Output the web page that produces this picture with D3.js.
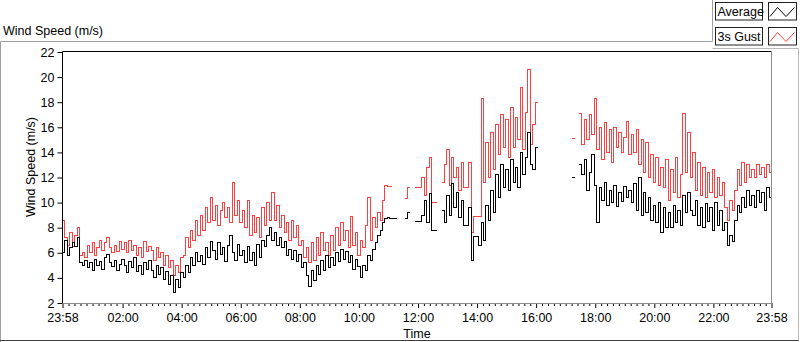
<!DOCTYPE html>
<html>
<head>
<meta charset="utf-8">
<script src="https://cdn.jsdelivr.net/npm/d3@7"></script>
<style>
  body { margin: 0; background: #fff; }
  svg text { font-family: "Liberation Sans", Arial, sans-serif; font-size: 12.5px; fill: #000; }
</style>
</head>
<body>
<svg id="chart"></svg>
<script>
// 5 minute samples starting 23:58, null = no data logged
const stepMinutes = 5;
const seriesNames = ["Average", "3s Gust"];
const seriesColors = ["#000000", "#ff4040"];
const yTicks = [2, 4, 6, 8, 10, 12, 14, 16, 18, 20, 22];

const average = [
  6.0, 7.0, 5.8, 6.4, 6.8, 6.5, 7.2, 5.2, 5.0, 5.4, 4.8, 5.2,
  4.6, 5.5, 5.0, 5.3, 4.7, 5.6, 5.9, 5.2, 4.9, 5.4, 4.6, 5.1,
  5.5, 5.0, 4.4, 5.3, 4.8, 5.6, 4.5, 5.0, 4.3, 5.2, 4.7, 5.4,
  4.6, 4.0, 5.0, 4.3, 4.8, 3.9, 4.5, 3.5, 4.2, 2.8, 3.9, 3.2,
  4.4, 4.0, 5.0, 4.4, 5.6, 5.0, 6.0, 5.3, 5.8, 5.1, 6.4, 5.6,
  6.9, 6.2, 5.5, 6.8, 5.9, 6.4, 5.3, 6.6, 7.4, 6.0, 5.4, 6.7,
  5.8, 6.2, 5.2, 6.5, 5.4, 6.0, 5.0, 6.7, 5.6, 7.0, 6.5, 7.4,
  8.0, 7.0, 7.6, 6.6, 7.2, 6.4, 6.9, 5.8, 6.3, 5.5, 6.2, 5.3,
  5.9, 4.8, 5.2, 4.2, 3.3, 4.6, 3.8, 5.0, 4.3, 5.4, 4.6, 5.8,
  4.8, 5.6, 5.0, 6.0, 5.3, 6.3, 5.5, 6.1, 5.2, 5.8, 4.7, 5.5,
  4.9, 4.0, 5.0, 4.6, 5.8, 5.4, 6.3, 6.8, 7.4, 7.8, 8.4, 8.7,
  8.8, 8.7, 8.7, 8.7, 8.7, null, null, 8.7, 9.2, 9.2, null, 8.5,
  8.5, 8.5, 9.0, 10.2, 8.4, 10.7, 7.8, 7.8, 7.8, null, 9.4, 8.4,
  10.6, 9.0, 11.5, 9.6, 10.8, 8.8, 10.2, 8.2, 8.2, 9.6, 5.4, 7.3,
  7.3, 6.6, 8.4, 7.0, 9.8, 8.6, 11.0, 9.2, 12.2, 10.4, 13.0, 11.2,
  12.6, 11.0, 13.4, 11.6, 12.8, 11.2, 14.0, 12.2, 13.6, 15.6, 13.0, 12.6,
  14.4, 14.4, null, null, null, null, null, null, null, null, null, null,
  null, null, null, 12.0, 12.0, null, 13.0, 12.2, 13.4, 11.0, 12.4, 13.8,
  11.4, 8.4, 11.2, 10.2, 11.6, 9.8, 11.0, 10.0, 11.4, 9.7, 10.8, 10.1,
  11.3, 10.4, 11.0, 10.0, 11.5, 9.4, 12.0, 9.0, 10.8, 9.2, 10.4, 8.6,
  9.8, 8.4, 10.0, 7.6, 9.6, 8.0, 9.2, 8.0, 9.8, 8.4, 9.4, 8.2,
  10.6, 9.2, 10.8, 9.4, 9.0, 10.2, 8.2, 9.6, 8.0, 9.9, 8.5, 9.6,
  7.8, 10.0, 8.2, 9.4, 7.8, 8.4, 6.6, 7.4, 6.9, 8.6, 9.8, 9.2,
  10.4, 9.6, 11.0, 9.8, 10.6, 9.6, 11.0, 10.0, 10.8, 9.4, 11.2, 10.4,
  10.8
];

const gust = [
  8.6, 7.2, 6.6, 7.6, 6.5, 7.4, 8.0, 5.8, 6.0, 5.6, 6.6, 6.0,
  6.8, 5.8, 6.4, 7.0, 6.2, 6.8, 7.2, 6.4, 6.0, 6.6, 6.1, 6.9,
  6.3, 6.8, 6.0, 7.0, 6.2, 6.6, 5.8, 6.4, 5.6, 6.9, 6.1, 6.5,
  6.2, 5.4, 6.4, 5.6, 6.0, 5.0, 5.8, 4.8, 5.4, 4.2, 5.0, 4.4,
  5.6, 5.8, 7.2, 6.4, 7.8, 7.0, 8.6, 7.4, 9.0, 7.8, 9.6, 8.4,
  10.4, 8.6, 9.8, 8.2, 9.4, 10.0, 8.8, 9.6, 8.4, 11.6, 9.0, 10.2,
  8.4, 9.4, 8.0, 10.2, 7.4, 9.0, 7.6, 8.8, 7.2, 9.6, 8.2, 10.0,
  8.6, 10.8, 8.6, 9.8, 8.0, 9.0, 7.6, 8.4, 7.0, 8.6, 7.2, 8.2,
  6.6, 7.0, 5.6, 6.4, 5.2, 6.8, 5.4, 7.2, 5.8, 7.6, 6.2, 6.8,
  5.8, 7.4, 6.2, 8.0, 6.6, 8.4, 7.0, 7.8, 6.4, 8.9, 6.6, 7.6,
  5.8, 7.0, 6.4, 8.2, 10.4, 7.0, 8.8, 8.0, 9.2, 8.6, 10.2, 11.4,
  11.3, 11.3, 11.3, null, null, null, null, 10.3, 11.2, 11.2, null, 11.2,
  11.2, 11.2, 12.0, 10.6, 12.8, 13.6, 10.0, 10.0, 10.0, null, 11.6, 13.0,
  14.2, 11.4, 13.6, 12.0, 12.8, 11.0, 13.2, 11.2, 11.2, 13.2, 7.6, 8.9,
  8.9, 8.9, 18.3, 11.6, 14.8, 12.0, 15.6, 12.6, 16.2, 13.8, 17.0, 14.4,
  16.6, 13.6, 17.6, 14.4, 16.8, 15.0, 19.2, 14.2, 17.2, 20.6, 14.6, 16.2,
  18.0, 18.0, null, null, null, null, null, null, null, null, null, null,
  null, null, null, 15.1, 15.1, null, 17.1, 14.6, 16.6, 15.0, 17.0, 15.4,
  18.3, 14.2, 16.0, 13.4, 16.4, 14.0, 15.8, 13.2, 16.0, 14.4, 15.6, 14.0,
  15.2, 16.5, 13.8, 15.4, 14.0, 15.8, 13.0, 15.0, 12.4, 14.8, 12.0, 13.8,
  11.6, 13.6, 11.4, 12.8, 11.2, 13.4, 10.2, 12.6, 10.8, 13.6, 10.4, 12.2,
  17.1, 12.4, 15.6, 12.0, 14.0, 11.0, 13.2, 10.6, 12.8, 10.4, 12.4, 10.8,
  12.6, 10.4, 12.0, 10.6, 11.6, 9.6, 8.6, 10.2, 9.4, 11.0, 12.6, 11.4,
  13.2, 11.6, 13.0, 12.0, 12.6, 12.0, 13.0, 12.2, 12.8, 12.0, 13.0, 12.4,
  13.2
];

const width = 800;
const height = 342;

const start = new Date(2000, 0, 1, 23, 58);
const end = new Date(2000, 0, 2, 23, 58);
const timeAt = (i) => new Date(+start + i * stepMinutes * 60000);

const svg = d3.select("#chart")
  .attr("width", width)
  .attr("height", height);

const x = d3.scaleTime().domain([start, end]).range([62.5, 771.5]);
const y = d3.scaleLinear().domain([2, 22]).range([303, 52]);

// outer panel frame
svg.append("path")
  .attr("d", "M0.5,342 V41.5 H712.5 V0")
  .attr("fill", "none").attr("stroke", "#a0a0a0");
svg.append("path")
  .attr("d", "M712.5,48.5 H798.5 V340.5 H0")
  .attr("fill", "none").attr("stroke", "#b8b8b8");
svg.append("path")
  .attr("d", "M0,340.5 H798.5")
  .attr("stroke", "#404040");

svg.append("text")
  .attr("x", 3).attr("y", 35)
  .text("Wind Speed (m/s)");

// legend
const legend = svg.append("g");
seriesNames.forEach((name, k) => {
  const top = k === 0 ? 2.5 : 27.5;
  const g = legend.append("g").attr("transform", `translate(0,${top})`);
  g.append("rect")
    .attr("x", 715.5).attr("y", 0).attr("width", 47).attr("height", 17.5)
    .attr("fill", "#fff").attr("stroke", "#202020");
  g.append("text").attr("x", 717.5).attr("y", 13.5).text(name);
  g.append("rect")
    .attr("x", 768.5).attr("y", 0).attr("width", 28).attr("height", 17.5)
    .attr("fill", "#fff").attr("stroke", "#202020");
  g.append("path")
    .attr("d", "M770,14 L777.5,5 L786,14 L794.5,5")
    .attr("fill", "none").attr("stroke", seriesColors[k]);
});

// major ticks every 2 hours, minor ticks split each interval into 10
const majors = [start];
for (let h = 2; h <= 22; h += 2) majors.push(new Date(2000, 0, 2, h, 0));
majors.push(end);
const minors = [];
for (let k = 0; k < majors.length - 1; k++) {
  const a = +majors[k], b = +majors[k + 1];
  for (let j = 1; j < 10; j++) minors.push(new Date(a + (b - a) * j / 10));
}

const xAxis = svg.append("g")
  .attr("transform", "translate(0,303)")
  .call(d3.axisBottom(x).tickValues(majors).tickFormat(d3.timeFormat("%H:%M")).tickSize(5).tickPadding(5));
xAxis.select(".domain").remove();
xAxis.selectAll("text").style("font-size", "12.5px").style("font-family", "Liberation Sans, Arial, sans-serif");

const xMinor = svg.append("g")
  .attr("transform", "translate(0,303)")
  .call(d3.axisBottom(x).tickValues(minors).tickFormat("").tickSize(3));
xMinor.select(".domain").remove();

const yAxis = svg.append("g")
  .attr("transform", "translate(62.5,0)")
  .call(d3.axisLeft(y).tickValues(yTicks).tickSize(5).tickPadding(3));
yAxis.select(".domain").remove();
yAxis.selectAll("text").style("font-size", "12.5px").style("font-family", "Liberation Sans, Arial, sans-serif");

svg.append("text")
  .attr("transform", "translate(35,167) rotate(-90)")
  .attr("text-anchor", "middle")
  .text("Wind Speed (m/s)");

svg.append("text")
  .attr("x", 417).attr("y", 338)
  .attr("text-anchor", "middle")
  .text("Time");

// data lines
const line = d3.line()
  .defined((d) => d != null)
  .x((d, i) => x(timeAt(i)))
  .y((d) => y(d))
  .curve(d3.curveStepAfter);

[gust, average].forEach((values, k) => {
  svg.append("path")
    .datum(values)
    .attr("fill", "none")
    .attr("stroke", k === 0 ? seriesColors[1] : seriesColors[0])
    .attr("stroke-width", 1)
    .attr("shape-rendering", "crispEdges")
    .attr("d", line);
});

// plot area border
svg.append("path")
  .attr("d", "M62.5,303.5 V51.5 H771.5")
  .attr("fill", "none").attr("stroke", "#000");
svg.append("path")
  .attr("d", "M771.5,51.5 V303.5 H62.5")
  .attr("fill", "none").attr("stroke", "#8c8c8c");
</script>
</body>
</html>
